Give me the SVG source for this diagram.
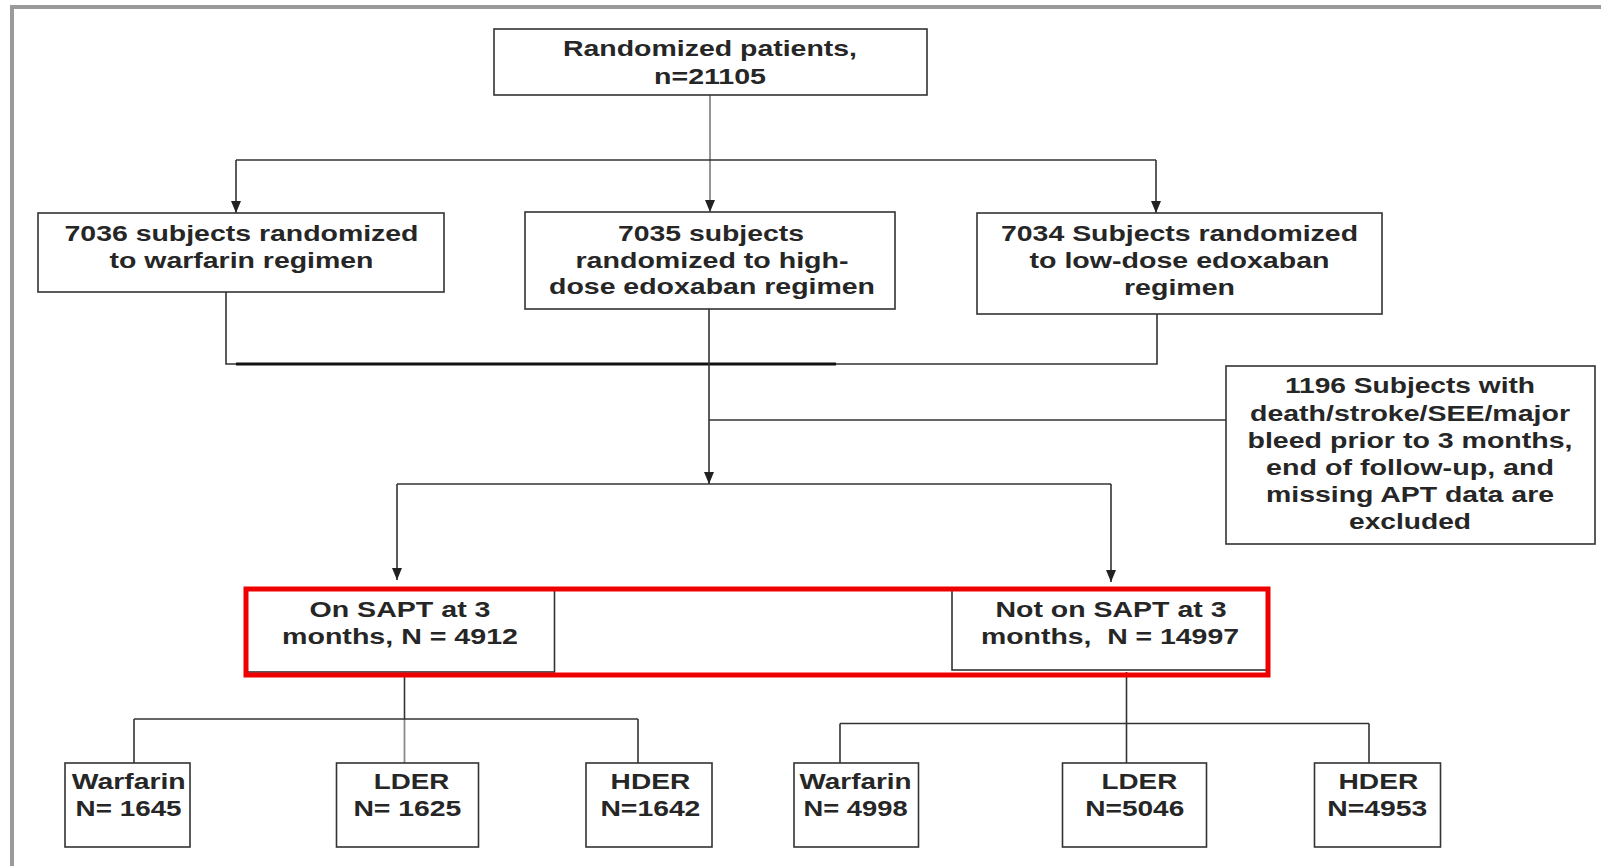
<svg xmlns="http://www.w3.org/2000/svg" width="1601" height="866" viewBox="0 0 1601 866">
<style>
.bg{fill:#ffffff}
.frame{fill:none;stroke:#9a9a9a;stroke-width:4}
.box{fill:#ffffff;stroke:#333333;stroke-width:1.6}
.red{fill:none;stroke:#ee0000;stroke-width:5}
.ln{fill:none;stroke:#333333;stroke-width:1.6}
.lg{fill:none;stroke:#8a8a8a;stroke-width:1.8}
.thick{fill:none;stroke:#111111;stroke-width:3}
.t{font-family:"Liberation Sans",Arial,sans-serif;font-size:22px;font-weight:bold;fill:#262626;text-anchor:middle}
</style>
<defs>
<marker id="arr" viewBox="0 0 12 10" refX="12" refY="5" markerWidth="12" markerHeight="10" markerUnits="userSpaceOnUse" orient="auto">
<path d="M0,0 L12,5 L0,10 z" fill="#222222"/>
</marker>
</defs>
<rect class="bg" x="0" y="0" width="1601" height="866"/>
<path class="frame" d="M12,866 V7 H1601"/>

<g id="connectors">
<path class="lg" d="M710,95 V212" marker-end="url(#arr)"/>
<path class="ln" d="M236,160 H1156"/>
<path class="ln" d="M236,160 V213" marker-end="url(#arr)"/>
<path class="ln" d="M1156,160 V213" marker-end="url(#arr)"/>
<path class="ln" d="M226,292 V364 H1157 V314"/>
<path class="thick" d="M236,364 H836"/>
<path class="ln" d="M709,309 V484" marker-end="url(#arr)"/>
<path class="ln" d="M709,420 H1226"/>
<path class="ln" d="M397,484 H1111"/>
<path class="ln" d="M397,484 V580" marker-end="url(#arr)"/>
<path class="ln" d="M1111,484 V582" marker-end="url(#arr)"/>
<path class="ln" d="M404.5,676 V719"/>
<path class="lg" d="M404.5,719 V763"/>
<path class="ln" d="M134,719 H638"/>
<path class="ln" d="M134,719 V763"/>
<path class="ln" d="M638,719 V763"/>
<path class="ln" d="M1126.5,672 V763"/>
<path class="ln" d="M840,723.5 H1369"/>
<path class="ln" d="M840,723.5 V763"/>
<path class="ln" d="M1369,723.5 V763"/>
</g>

<g id="randomized">
<rect class="box" x="494" y="29" width="433" height="66"/>
<text class="t" x="710" y="56" textLength="294" lengthAdjust="spacingAndGlyphs">Randomized patients,</text>
<text class="t" x="710" y="83.5" textLength="112" lengthAdjust="spacingAndGlyphs">n=21105</text>
</g>

<g id="warfarin-arm">
<rect class="box" x="38" y="213" width="406" height="79"/>
<text class="t" x="241.5" y="241" textLength="354" lengthAdjust="spacingAndGlyphs">7036 subjects randomized</text>
<text class="t" x="241.5" y="267.5" textLength="264" lengthAdjust="spacingAndGlyphs">to warfarin regimen</text>
</g>

<g id="high-dose-arm">
<rect class="box" x="525" y="212" width="370" height="97"/>
<text class="t" x="711" y="241" textLength="186" lengthAdjust="spacingAndGlyphs">7035 subjects</text>
<text class="t" x="712" y="267.5" textLength="273" lengthAdjust="spacingAndGlyphs">randomized to high-</text>
<text class="t" x="712" y="294" textLength="326" lengthAdjust="spacingAndGlyphs">dose edoxaban regimen</text>
</g>

<g id="low-dose-arm">
<rect class="box" x="977" y="213" width="405" height="101"/>
<text class="t" x="1179.5" y="241" textLength="357" lengthAdjust="spacingAndGlyphs">7034 Subjects randomized</text>
<text class="t" x="1179.5" y="267.5" textLength="300" lengthAdjust="spacingAndGlyphs">to low-dose edoxaban</text>
<text class="t" x="1179.5" y="294.5" textLength="111" lengthAdjust="spacingAndGlyphs">regimen</text>
</g>

<g id="excluded">
<rect class="box" x="1226" y="366" width="369" height="178"/>
<text class="t" x="1410" y="393" textLength="250" lengthAdjust="spacingAndGlyphs">1196 Subjects with</text>
<text class="t" x="1410" y="420.5" textLength="320" lengthAdjust="spacingAndGlyphs">death/stroke/SEE/major</text>
<text class="t" x="1410" y="448" textLength="325" lengthAdjust="spacingAndGlyphs">bleed prior to 3 months,</text>
<text class="t" x="1410" y="475" textLength="288" lengthAdjust="spacingAndGlyphs">end of follow-up, and</text>
<text class="t" x="1410" y="502" textLength="288" lengthAdjust="spacingAndGlyphs">missing APT data are</text>
<text class="t" x="1410" y="529" textLength="122" lengthAdjust="spacingAndGlyphs">excluded</text>
</g>

<g id="on-sapt">
<rect class="box" x="246" y="589" width="308.5" height="83"/>
<text class="t" x="400" y="617" textLength="181" lengthAdjust="spacingAndGlyphs">On SAPT at 3</text>
<text class="t" x="400" y="644" textLength="236" lengthAdjust="spacingAndGlyphs">months, N = 4912</text>
</g>

<g id="not-on-sapt">
<rect class="box" x="952" y="589" width="316" height="81"/>
<text class="t" x="1111" y="617" textLength="231" lengthAdjust="spacingAndGlyphs">Not on SAPT at 3</text>
<text class="t" x="1110" y="644" textLength="258" lengthAdjust="spacingAndGlyphs" xml:space="preserve">months,  N = 14997</text>
</g>

<g id="sapt-highlight">
<rect class="red" x="246" y="589" width="1022" height="86"/>
</g>

<g id="sapt-warfarin">
<rect class="box" x="65" y="763" width="125" height="84"/>
<text class="t" x="128.7" y="789" textLength="114" lengthAdjust="spacingAndGlyphs">Warfarin</text>
<text class="t" x="128.6" y="816" textLength="106" lengthAdjust="spacingAndGlyphs">N= 1645</text>
</g>
<g id="sapt-lder">
<rect class="box" x="336.5" y="763" width="142" height="84"/>
<text class="t" x="411.5" y="789" textLength="75.5" lengthAdjust="spacingAndGlyphs">LDER</text>
<text class="t" x="407.4" y="816" textLength="108" lengthAdjust="spacingAndGlyphs">N= 1625</text>
</g>
<g id="sapt-hder">
<rect class="box" x="586" y="763" width="126" height="84"/>
<text class="t" x="650.4" y="789" textLength="79.6" lengthAdjust="spacingAndGlyphs">HDER</text>
<text class="t" x="650.4" y="816" textLength="100" lengthAdjust="spacingAndGlyphs">N=1642</text>
</g>
<g id="nosapt-warfarin">
<rect class="box" x="794" y="763" width="124.5" height="84"/>
<text class="t" x="855.6" y="789" textLength="112" lengthAdjust="spacingAndGlyphs">Warfarin</text>
<text class="t" x="855.6" y="816" textLength="104" lengthAdjust="spacingAndGlyphs">N= 4998</text>
</g>
<g id="nosapt-lder">
<rect class="box" x="1062.5" y="763" width="144" height="84"/>
<text class="t" x="1139.4" y="789" textLength="75.6" lengthAdjust="spacingAndGlyphs">LDER</text>
<text class="t" x="1134.8" y="816" textLength="99" lengthAdjust="spacingAndGlyphs">N=5046</text>
</g>
<g id="nosapt-hder">
<rect class="box" x="1314.5" y="763" width="126" height="84"/>
<text class="t" x="1378.4" y="789" textLength="79.7" lengthAdjust="spacingAndGlyphs">HDER</text>
<text class="t" x="1377.3" y="816" textLength="100" lengthAdjust="spacingAndGlyphs">N=4953</text>
</g>
</svg>
